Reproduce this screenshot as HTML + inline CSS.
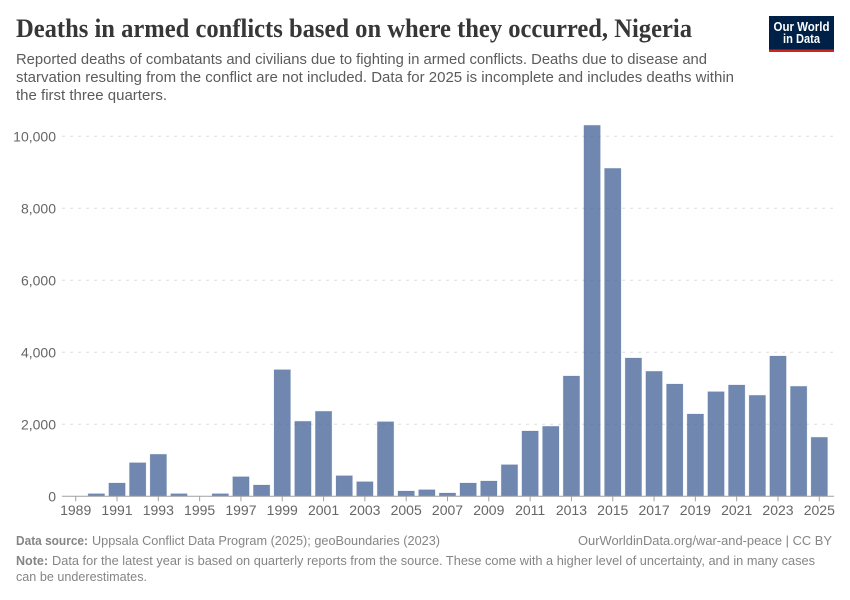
<!DOCTYPE html>
<html lang="en">
<head>
<meta charset="utf-8">
<title>Deaths in armed conflicts based on where they occurred, Nigeria</title>
<style>
html,body{margin:0;padding:0;background:#fff;width:850px;height:600px;overflow:hidden}
svg{display:block}
text{font-family:"Liberation Sans",sans-serif}
</style>
</head>
<body>
<svg id="chart" xmlns="http://www.w3.org/2000/svg" width="850" height="600" viewBox="0 0 850 600">
  <rect x="0" y="0" width="850" height="600" fill="#fff"/>
  <text x="16" y="37" textLength="676" lengthAdjust="spacingAndGlyphs" style="font-family:'Liberation Serif',serif;font-weight:700;font-size:26px" fill="#373737">Deaths in armed conflicts based on where they occurred, Nigeria</text>
  <g font-size="15" fill="#5b5b5b">
    <text x="16" y="64" textLength="691" lengthAdjust="spacingAndGlyphs">Reported deaths of combatants and civilians due to fighting in armed conflicts. Deaths due to disease and</text>
    <text x="16" y="82" textLength="718" lengthAdjust="spacingAndGlyphs">starvation resulting from the conflict are not included. Data for 2025 is incomplete and includes deaths within</text>
    <text x="16" y="100" textLength="151" lengthAdjust="spacingAndGlyphs">the first three quarters.</text>
  </g>
  <g>
    <rect x="769" y="16" width="65" height="36" fill="#002147"/>
    <rect x="769" y="49.5" width="65" height="2.5" fill="#ce261e"/>
    <text x="801.5" y="31" text-anchor="middle" font-size="12.5" font-weight="700" fill="#fff" textLength="56" lengthAdjust="spacingAndGlyphs">Our World</text>
    <text x="801.5" y="43" text-anchor="middle" font-size="12.5" font-weight="700" fill="#fff" textLength="37" lengthAdjust="spacingAndGlyphs">in Data</text>
  </g>
  <g id="grid"></g>
  <g id="y-labels" font-size="14" fill="#666"></g>
  <g id="bars"></g>
  <g id="x-axis" font-size="14" fill="#666"></g>
  <g font-size="13" fill="#858585">
    <text x="16" y="545" font-weight="700" textLength="72" lengthAdjust="spacingAndGlyphs">Data source:</text>
    <text x="92" y="545" textLength="348" lengthAdjust="spacingAndGlyphs">Uppsala Conflict Data Program (2025); geoBoundaries (2023)</text>
    <text x="578" y="545" textLength="254" lengthAdjust="spacingAndGlyphs">OurWorldinData.org/war-and-peace | CC BY</text>
    <text x="16" y="565" font-weight="700" textLength="32" lengthAdjust="spacingAndGlyphs">Note:</text>
    <text x="52" y="565" textLength="763" lengthAdjust="spacingAndGlyphs">Data for the latest year is based on quarterly reports from the source. These come with a higher level of uncertainty, and in many cases</text>
    <text x="16" y="581" textLength="131" lengthAdjust="spacingAndGlyphs">can be underestimates.</text>
  </g>
</svg>
<script>
const years = [1989,1990,1991,1992,1993,1994,1995,1996,1997,1998,1999,2000,2001,2002,2003,2004,2005,2006,2007,2008,2009,2010,2011,2012,2013,2014,2015,2016,2017,2018,2019,2020,2021,2022,2023,2024,2025];
const deaths = [0,72,369,933,1167,72,0,72,544,314,3517,2083,2361,572,406,2072,147,183,92,369,425,878,1814,1944,3342,10305,9110,3842,3472,3119,2286,2906,3092,2805,3897,3055,1639];
const yTicks = [0,2000,4000,6000,8000,10000];
const yTickLabels = ["0","2,000","4,000","6,000","8,000","10,000"];
const xTicks = [1989,1991,1993,1995,1997,1999,2001,2003,2005,2007,2009,2011,2013,2015,2017,2019,2021,2023,2025];

const NS = 'http://www.w3.org/2000/svg';
const yScale = v => 496.3 - v * 0.036;
const xScale = y => 75.7 + (y - 1989) * (819.3 - 75.7) / 36;
const make = (tag, parent) => parent.appendChild(document.createElementNS(NS, tag));

const grid = document.getElementById('grid');
const yLabels = document.getElementById('y-labels');
yTicks.forEach((t, i) => {
  if (t !== 0) {
    const line = make('line', grid);
    
    
    line.setAttribute('x1', 62);
    line.setAttribute('x2', 834);
    line.setAttribute('y1', yScale(t));
    line.setAttribute('y2', yScale(t));
    line.setAttribute('stroke', '#dddddd');
    line.setAttribute('stroke-width', 1);
    line.setAttribute('stroke-dasharray', '3,5');
  }
  const label = make('text', yLabels);
  
  
  label.setAttribute('x', 56);
  label.setAttribute('y', yScale(t) + 5);
  label.setAttribute('text-anchor', 'end');
  label.textContent = yTickLabels[i];
});

const bars = document.getElementById('bars');
years.forEach((year, i) => {
  if (deaths[i] <= 0) return;
  const rect = make('rect', bars);
  
  
  rect.setAttribute('x', xScale(year) - 8.2);
  rect.setAttribute('y', yScale(deaths[i]));
  rect.setAttribute('width', 16.4);
  rect.setAttribute('height', yScale(0) - yScale(deaths[i]));
  rect.setAttribute('fill', '#4c6a9c');
  rect.setAttribute('fill-opacity', 0.8);
  rect.setAttribute('stroke', '#4c6a9c');
  rect.setAttribute('stroke-opacity', 0.2);
  rect.setAttribute('stroke-width', 0.8);
});

const xAxis = document.getElementById('x-axis');
const axisLine = make('line', xAxis);


axisLine.setAttribute('x1', 62);
axisLine.setAttribute('x2', 834);
axisLine.setAttribute('y1', yScale(0));
axisLine.setAttribute('y2', yScale(0));
axisLine.setAttribute('stroke', '#a1a1a1');
axisLine.setAttribute('stroke-width', 1);
xTicks.forEach(year => {
  const tick = make('line', xAxis);
  
  
  tick.setAttribute('x1', xScale(year));
  tick.setAttribute('x2', xScale(year));
  tick.setAttribute('y1', yScale(0));
  tick.setAttribute('y2', yScale(0) + 5);
  tick.setAttribute('stroke', '#a1a1a1');
  tick.setAttribute('stroke-width', 1);
  const label = make('text', xAxis);
  
  
  label.setAttribute('x', xScale(year));
  label.setAttribute('y', 515);
  label.setAttribute('text-anchor', 'middle');
  label.textContent = String(year);
});
</script>
</body>
</html>
